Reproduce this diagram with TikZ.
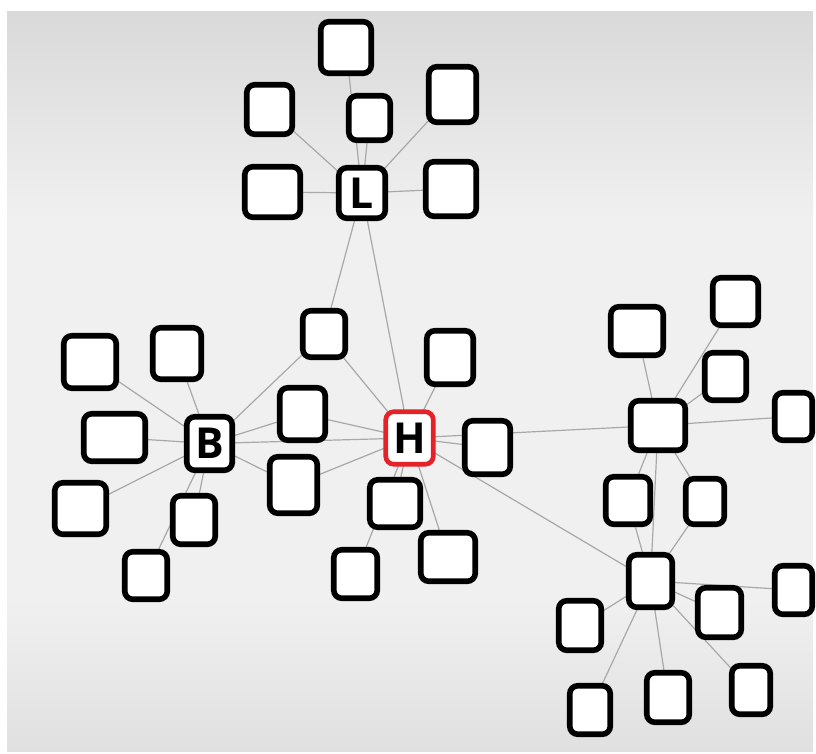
\documentclass[tikz,border=0pt]{standalone}
\usepackage{fontspec}
\setmainfont{Open Sans}
\definecolor{bgA}{HTML}{F0F0F0}
\definecolor{bgTop}{HTML}{D9D9D9}
\definecolor{bgBot}{HTML}{E0E0E0}
\definecolor{edgec}{HTML}{A8A8A8}
\definecolor{hred}{HTML}{E52228}
\pgfdeclarelayer{bgl}
\pgfdeclarelayer{edgel}
\pgfsetlayers{bgl,edgel,main}
\newcommand\bx[7][box]{%
 \pgfmathsetmacro\bxcx{(#3+#5)/2}%
 \pgfmathsetmacro\bxcy{(#4+#6)/2}%
 \pgfmathsetmacro\bxw{(#5-#3-5.5)*0.75}%
 \pgfmathsetmacro\bxh{(#6-#4-5.5)*0.75}%
 \node[#1, minimum width=\bxw pt, minimum height=\bxh pt] (#2) at (\bxcx,\bxcy) {#7};}
\begin{document}
\begin{tikzpicture}[x=0.75pt,y=-0.75pt,
  box/.style={draw=black, line width=4.2pt, rounded corners=6pt, fill=white, inner sep=0pt, outer sep=0pt, font=\fontsize{32}{33}\selectfont\bfseries},
  hbox/.style={box, draw=hred, line width=3.5pt},
  edge/.style={draw=edgec, line width=0.9pt}]
\useasboundingbox (0,0) rectangle (816,753);
\begin{pgfonlayer}{bgl}
\fill[white] (0,0) rectangle (816,753);
\fill[bgA] (7,11) rectangle (813,751);
\shade[top color=bgTop, bottom color=bgA] (7,11) rectangle (813,220);
\shade[top color=bgA, bottom color=bgBot] (7,600) rectangle (813,751);
\end{pgfonlayer}
% L cluster
\bx{Ltop}{318}{19}{374}{76}{}
\bx{Lsm}{346}{93}{393}{143}{}
\bx{Lru}{426}{64}{479}{125}{}
\bx{Lrl}{423}{159}{479}{219}{}
\bx{L}{336}{165}{388}{221}{L}
\bx{Llu}{244}{82}{295}{137}{}
\bx{Lll}{242}{164}{303}{220}{}
% middle
\bx{Ma}{300}{308}{348}{360}{}
\bx{Mb}{277}{385}{328}{443}{}
\bx{Mc}{267}{454}{320}{516}{}
% B cluster
\bx{B}{184}{414}{235}{473}{B}
\bx{Btl}{61}{333}{119}{391}{}
\bx{Bt}{150}{325}{204}{382}{}
\bx{Bl}{81}{411}{148}{464}{}
\bx{Bbl}{52}{480}{109}{537}{}
\bx{Bb}{170}{493}{218}{547}{}
\bx{Bbb}{122}{549}{170}{602}{}
% H cluster
\bx[hbox]{H}{383}{409}{436}{467}{H}
\bx{Htr}{424}{328}{476}{387}{}
\bx{Hr}{462}{418}{513}{477}{}
\bx{Hb}{367}{477}{423}{530}{}
\bx{Hbr}{418}{530}{478}{584}{}
\bx{Hbl}{331}{547}{380}{601}{}
% right upper
\bx{Ra}{628}{398}{688}{453}{}
\bx{Ratl}{608}{304}{666}{358}{}
\bx{Ratr}{710}{275}{761}{328}{}
\bx{Rar}{702}{350}{749}{403}{}
\bx{Rafr}{772}{390}{815}{443}{}
\bx{Rabl}{603}{474}{653}{527}{}
\bx{Rabr}{683}{476}{727}{527}{}
% right lower
\bx{Rb}{626}{552}{675}{610}{}
\bx{Rbl}{556}{598}{604}{653}{}
\bx{Rbr}{695}{585}{744}{640}{}
\bx{Rbfr}{772}{563}{815}{617}{}
\bx{Rbbl}{567}{683}{613}{737}{}
\bx{Rbbm}{644}{670}{692}{725}{}
\bx{Rbbr}{729}{663}{773}{717}{}
\begin{pgfonlayer}{edgel}
\foreach \a/\b in {L/Ltop,L/Lsm,L/Lru,L/Lrl,L/Llu,L/Lll,L/Ma,L/H,
  B/Btl,B/Bt,B/Bl,B/Bbl,B/Bb,B/Bbb,B/Ma,B/Mb,B/Mc,B/H,
  Ma/H,Mb/H,Mc/H,
  H/Htr,H/Hr,H/Hb,H/Hbr,H/Hbl,H/Ra,H/Rb,
  Ra/Ratl,Ra/Ratr,Ra/Rar,Ra/Rafr,Ra/Rabl,Ra/Rabr,Ra/Rb,
  Rb/Rabl,Rb/Rabr,Rb/Rbl,Rb/Rbr,Rb/Rbfr,Rb/Rbbl,Rb/Rbbm,Rb/Rbbr}
  \draw[edge] (\a.center) -- (\b.center);
\end{pgfonlayer}
\end{tikzpicture}
\end{document}
